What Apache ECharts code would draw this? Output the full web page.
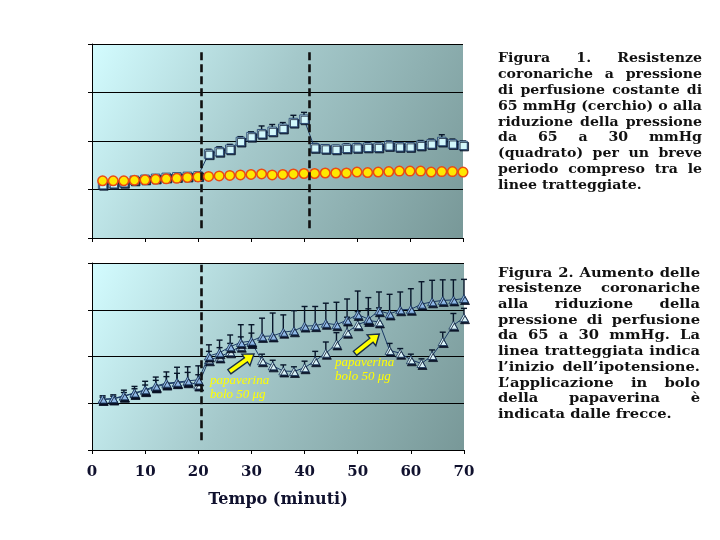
<!DOCTYPE html>
<html><head><meta charset="utf-8">
<script src="https://cdn.jsdelivr.net/npm/echarts@6.0.0/dist/echarts.min.js"></script>
<style>html,body{margin:0;padding:0;background:#fff;} #c{width:720px;height:540px;}</style>
</head><body><div id="c"></div><script>
// ---------- data ----------
const times = [2,4,6,8,10,12,14,16,18,20,22,24,26,28,30,32,34,36,38,40,42,44,46,48,50,52,54,56,58,60,62,64,66,68,70];
const xTicks = [0,10,20,30,40,50,60,70];
// Figure 1
const circleVals = [1.18,1.18,1.18,1.19,1.20,1.21,1.22,1.23,1.25,1.26,1.27,1.28,1.29,1.30,1.31,1.32,1.30,1.31,1.32,1.33,1.33,1.34,1.34,1.34,1.36,1.35,1.36,1.37,1.38,1.38,1.38,1.36,1.37,1.37,1.36];
const squareVals = [1.10,1.12,1.14,1.19,1.21,1.23,1.25,1.26,1.27,1.28,1.73,1.78,1.83,1.99,2.09,2.15,2.20,2.26,2.38,2.45,1.86,1.84,1.83,1.85,1.86,1.87,1.87,1.90,1.88,1.88,1.91,1.94,1.99,1.94,1.91];
const squareErr  = [0.03,0.03,0.03,0.03,0.03,0.03,0.03,0.03,0.03,0.03,0.10,0.10,0.10,0.10,0.10,0.16,0.14,0.12,0.15,0.14,0.09,0.08,0.08,0.09,0.09,0.10,0.09,0.10,0.09,0.09,0.10,0.10,0.14,0.10,0.09];
const dashFig1 = [20.55, 40.9];
// Figure 2
const triAVals = [1.09,1.10,1.16,1.22,1.29,1.37,1.43,1.45,1.48,1.50,2.01,2.08,2.21,2.30,2.33,2.43,2.44,2.52,2.55,2.65,2.66,2.71,2.68,2.78,2.90,2.80,2.98,2.91,3.00,3.01,3.12,3.17,3.20,3.21,3.24];
const triAErr  = [0.07,0.08,0.12,0.14,0.18,0.19,0.24,0.32,0.30,0.30,0.24,0.27,0.25,0.38,0.35,0.39,0.49,0.37,0.43,0.42,0.41,0.43,0.48,0.45,0.50,0.46,0.40,0.42,0.38,0.44,0.48,0.46,0.44,0.43,0.41];
const triBVals = [1.08,1.09,1.15,1.21,1.27,1.35,1.41,1.44,1.46,1.39,1.93,1.99,2.10,2.22,2.30,1.91,1.80,1.69,1.68,1.76,1.91,2.07,2.27,2.52,2.68,2.77,2.74,2.13,2.07,1.93,1.85,2.02,2.32,2.67,2.83];
const triBErr  = [0.05,0.06,0.08,0.10,0.12,0.14,0.16,0.20,0.20,0.22,0.18,0.20,0.18,0.20,0.20,0.14,0.12,0.13,0.10,0.14,0.20,0.24,0.24,0.32,0.28,0.25,0.30,0.15,0.10,0.12,0.10,0.12,0.20,0.25,0.20];
const dashFig2 = [20.5];
const xAxisName = 'Tempo (minuti)';
const arrowFrom = [[25.84,1.675],[49.49,2.068]];
const arrowTo   = [[30.49,2.053],[54.06,2.48]];
const noteAnchor = [[22.2,1.48],[45.73,1.88]];
const noteLines = ['papaverina','bolo 50 μg'];
const fig1Text = ['Figura 1. Resistenze','coronariche a pressione','di perfusione costante di','65 mmHg (cerchio) o alla','riduzione della pressione','da 65 a 30 mmHg','(quadrato) per un breve','periodo compreso tra le','linee tratteggiate.'];
const fig2Text = ['Figura 2. Aumento delle','resistenze coronariche','alla riduzione della','pressione di perfusione','da 65 a 30 mmHg. La','linea tratteggiata indica','l’inizio dell’ipotensione.','L’applicazione in bolo','della papaverina è','indicata dalle frecce.'];

// ---------- helpers ----------
const pairs = (xs, ys) => xs.map((x,i)=>[x, ys[i]]);
const triples = (xs, ys, es) => xs.map((x,i)=>[x, ys[i], es[i]]);
function errRender(params, api){
  const x = api.value(0), y = api.value(1), e = api.value(2);
  const p0 = api.coord([x,y]), p1 = api.coord([x,y+e]);
  const c = 3, st = {stroke:'#08162a', lineWidth:1.4};
  return {type:'group', children:[
    {type:'line', shape:{x1:p0[0],y1:p0[1],x2:p1[0],y2:p1[1]}, style:st},
    {type:'line', shape:{x1:p1[0]-c,y1:p1[1],x2:p1[0]+c,y2:p1[1]}, style:st}
  ]};
}
function bg(){
  return new echarts.graphic.LinearGradient(0,0,1,1,[
    {offset:0,color:'#d3fcff'},{offset:0.45,color:'#a4c8ca'},{offset:1,color:'#789898'}]);
}
const tickFont = {fontFamily:'DejaVu Serif', fontWeight:'bold', fontSize:15, color:'#10112e'};
function xAx(idx, labels){
  return {type:'value', gridIndex:idx, min:0, max:70, interval:10,
    axisLine:{show:true, onZero:false, lineStyle:{color:'#000', width:1}},
    axisTick:{show:true, length:4, lineStyle:{color:'#000'}},
    axisLabel: labels ? Object.assign({show:true, margin:15, formatter:v=>xTicks.includes(v)?String(v):''}, tickFont) : {show:false},
    splitLine:{show:false},
    name: labels ? xAxisName : '', nameLocation:'middle', nameGap:42,
    nameTextStyle:{fontFamily:'DejaVu Serif', fontWeight:'bold', fontSize:16, color:'#10112e'}
  };
}
function yAx(idx){
  return {type:'value', gridIndex:idx, min:0, max:4, interval:1,
    axisLine:{show:true, lineStyle:{color:'#000', width:1}},
    axisTick:{show:true, length:4, lineStyle:{color:'#000'}},
    axisLabel:{show:false},
    splitLine:{show:true, lineStyle:{color:'#000', width:1}}};
}
function dashLines(xs, y0, y1){
  return {silent:true, symbol:'none', label:{show:false},
    lineStyle:{color:'#111', width:2.6, type:[8,4]},
    data: xs.map(x=>[{coord:[x,y0]},{coord:[x,y1]}])};
}
const triShadow = {shadowColor:'rgba(8,16,36,0.95)', shadowOffsetX:1, shadowOffsetY:2, shadowBlur:0};

const chart = echarts.init(document.getElementById('c'), null, {renderer:'canvas'});
const option = {
  animation:false,
  backgroundColor:'#fff',
  grid:[
    {left:92, top:44, width:371, height:194, show:true, backgroundColor:bg(), borderWidth:0},
    {left:92, top:263, width:372, height:187, show:true, backgroundColor:bg(), borderWidth:0}
  ],
  xAxis:[xAx(0,false), xAx(1,true)],
  yAxis:[yAx(0), yAx(1)],
  series:[
    {type:'custom', xAxisIndex:0, yAxisIndex:0, renderItem:errRender, data:triples(times,squareVals,squareErr), z:2, silent:true},
    {type:'line', xAxisIndex:0, yAxisIndex:0, data:pairs(times,squareVals), symbol:'rect', symbolSize:8.5,
      lineStyle:{color:'#1b3a66', width:1},
      itemStyle:{color:'#d2f7fb', borderColor:'#23426e', borderWidth:0.9, shadowColor:'rgba(10,22,45,0.85)', shadowOffsetX:1.3, shadowOffsetY:1.3, shadowBlur:0},
      markLine:dashLines(dashFig1, 0.2, 3.84), z:3},
    {type:'line', xAxisIndex:0, yAxisIndex:0, data:pairs(times,circleVals), symbol:'circle', symbolSize:9.5,
      lineStyle:{color:'#d82010', width:1},
      itemStyle:{color:'#ffe800', borderColor:'#ea4a14', borderWidth:1.5}, z:4},
    {type:'custom', xAxisIndex:1, yAxisIndex:1, renderItem:errRender, data:triples(times,triBVals,triBErr), z:2, silent:true},
    {type:'custom', xAxisIndex:1, yAxisIndex:1, renderItem:errRender, data:triples(times,triAVals,triAErr), z:2, silent:true},
    {type:'line', xAxisIndex:1, yAxisIndex:1, data:pairs(times,triBVals), symbol:'triangle', symbolSize:[9,8],
      lineStyle:{color:'#1b3a66', width:1},
      itemStyle:Object.assign({color:'#d8f2f8', borderColor:'#163258', borderWidth:0.8}, triShadow),
      markLine:dashLines(dashFig2, 0.21, 3.96), z:3},
    {type:'line', xAxisIndex:1, yAxisIndex:1, data:pairs(times,triAVals), symbol:'triangle', symbolSize:[9,8],
      lineStyle:{color:'#1b3a66', width:1},
      itemStyle:Object.assign({color:'#8fb8e6', borderColor:'#163258', borderWidth:0.8}, triShadow), z:4}
  ]
};
chart.setOption(option);

// ---------- annotations & captions ----------
const ctx = document.createElement('canvas').getContext('2d');
const capFamily = 'DejaVu Serif', capSize = 13;
const capFont = 'bold ' + capSize + 'px "' + capFamily + '"';
function tw(s){ ctx.font = capFont; return ctx.measureText(s).width; }
function block(lines, x0, x1, y0, lh){
  const W = x1 - x0;
  const maxNat = Math.max.apply(null, lines.map(l=>tw(l)));
  const sx = Math.min(1.35, W / maxNat * 0.995);
  const els = [];
  lines.forEach((line,i)=>{
    const y = y0 + i*lh;
    const words = line.split(' ');
    const base = {fontFamily:capFamily, fontWeight:'bold', fontSize:capSize, fill:'#111', verticalAlign:'middle', align:'left'};
    if (i === lines.length-1 || words.length < 2){
      els.push({type:'text', x:x0, y:y, scaleX:sx, style:Object.assign({text:line}, base)});
      return;
    }
    const ws = words.map(w=>tw(w)*sx);
    const tot = ws.reduce((a,b)=>a+b,0);
    const gap = (W-tot)/(words.length-1);
    let x = x0;
    words.forEach((w,j)=>{ els.push({type:'text', x:x, y:y, scaleX:sx, style:Object.assign({text:w}, base)}); x += ws[j]+gap; });
  });
  return els;
}
function arrowPoly(a, b){
  const dx=b[0]-a[0], dy=b[1]-a[1], L=Math.hypot(dx,dy);
  const ux=dx/L, uy=dy/L, nx=-uy, ny=ux;
  const hl=10, sw=2.6, hw=7;
  const bx=b[0]-ux*hl, by=b[1]-uy*hl;
  return [[a[0]+nx*sw,a[1]+ny*sw],[bx+nx*sw,by+ny*sw],[bx+nx*hw,by+ny*hw],[b[0],b[1]],
          [bx-nx*hw,by-ny*hw],[bx-nx*sw,by-ny*sw],[a[0]-nx*sw,a[1]-ny*sw]];
}
const finder = {xAxisIndex:1, yAxisIndex:1};
const graphics = [];
arrowFrom.forEach((f,i)=>{
  const a = chart.convertToPixel(finder, f), b = chart.convertToPixel(finder, arrowTo[i]);
  graphics.push({type:'polygon', shape:{points:arrowPoly(a,b)}, style:{fill:'#ffff00', stroke:'#1a2e48', lineWidth:1.4}, z:10});
});
noteAnchor.forEach(p=>{
  const q = chart.convertToPixel(finder, p);
  noteLines.forEach((t,k)=>{
    graphics.push({type:'text', x:q[0], y:q[1]+k*14, z:11, style:{text:t, fontFamily:'Liberation Serif', fontStyle:'italic', fontSize:13,
      fill:'#ffff00', verticalAlign:'middle', align:'left', textShadowColor:'#1a1a1a', textShadowOffsetX:1, textShadowOffsetY:1, textShadowBlur:0}});
  });
});
block(fig1Text, 498, 702, 59, 15.8).forEach(e=>graphics.push(e));
block(fig2Text, 498, 700, 273.3, 15.7).forEach(e=>graphics.push(e));
chart.setOption({graphic:graphics});
</script></body></html>
